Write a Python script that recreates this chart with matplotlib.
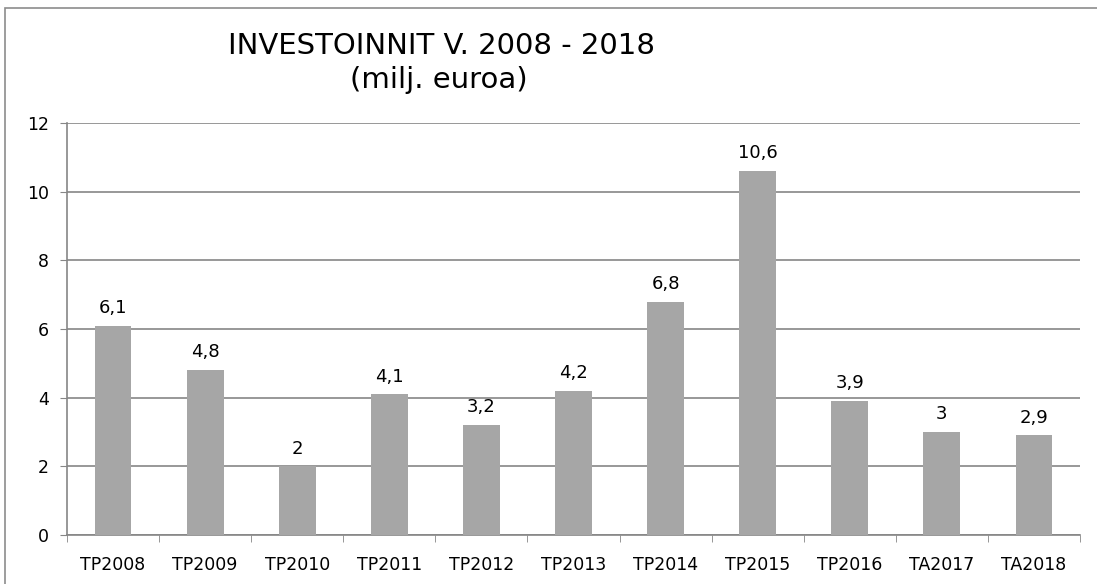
import matplotlib
matplotlib.use('Agg')
import matplotlib.pyplot as plt
from matplotlib.patches import Rectangle

plt.rcParams['font.family'] = ['DejaVu Sans']

categories = ['TP2008', 'TP2009', 'TP2010', 'TP2011', 'TP2012', 'TP2013',
              'TP2014', 'TP2015', 'TP2016', 'TA2017', 'TA2018']
values = [6.1, 4.8, 2, 4.1, 3.2, 4.2, 6.8, 10.6, 3.9, 3, 2.9]
labels = ['6,1', '4,8', '2', '4,1', '3,2', '4,2', '6,8', '10,6', '3,9', '3', '2,9']

fig = plt.figure(figsize=(10.97, 5.84), dpi=100)
ax = fig.add_axes([67 / 1097, 1 - 535 / 584, (1080 - 67) / 1097, (535 - 123) / 584])

# outer chart frame
fig.patches.append(Rectangle((5 / 1097, -0.01), 1.1, 1 - 8 / 584 + 0.01,
                             transform=fig.transFigure, fill=False,
                             edgecolor='#8c8c8c', linewidth=1.2))

x = range(len(categories))
ax.bar(x, values, width=0.4, color='#a6a6a6', zorder=3)
for i, (v, lab) in enumerate(zip(values, labels)):
    ax.text(i, v + 0.37, lab, ha='center', va='baseline', fontsize=13, color='#000000')

ax.set_xlim(-0.5, len(categories) - 0.5)
ax.set_ylim(0, 12)
ax.set_yticks(range(0, 13, 2))
ax.set_xticks(list(x))
ax.set_xticklabels(categories, fontsize=12.5)
ax.tick_params(axis='y', labelsize=12.5, length=5, color='#868686', pad=8)
ax.tick_params(axis='x', length=0, pad=15)
# small ticks at category boundaries
ax.set_xticks([i - 0.5 for i in range(len(categories) + 1)], minor=True)
ax.tick_params(axis='x', which='minor', length=5, color='#868686')

ax.grid(axis='y', color='#868686', linewidth=1.2, zorder=0)
for side in ['top', 'right']:
    ax.spines[side].set_visible(False)
for side in ['left', 'bottom']:
    ax.spines[side].set_color('#868686')
    ax.spines[side].set_linewidth(1.2)

fig.text(441 / 1097, 1 - 46 / 584, 'INVESTOINNIT V. 2008 - 2018', ha='center', va='center', fontsize=21)
fig.text(439 / 1097, 1 - 80 / 584, '(milj. euroa)', ha='center', va='center', fontsize=21)

fig.savefig('out.png', dpi=100)
